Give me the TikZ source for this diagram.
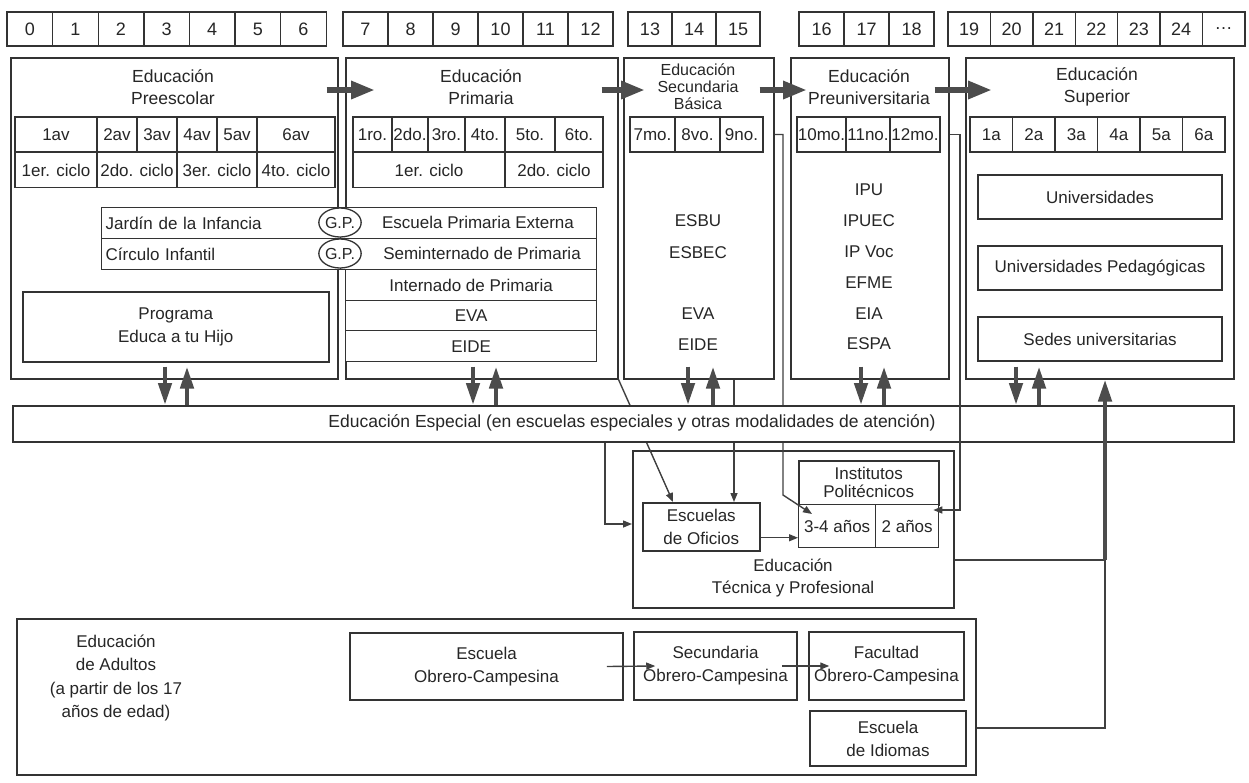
\documentclass[tikz,border=0pt]{standalone}
\usepackage{fontspec}
\setmainfont{Liberation Sans}
\usetikzlibrary{arrows.meta,positioning,shapes.geometric,calc}

\begin{document}
\begin{tikzpicture}[x=1pt,y=-1pt,font=\fontsize{17}{20}\selectfont,text=black!85]
  \tikzstyle{box}=[draw=black!80,line width=1.5pt,fill=white,inner sep=0pt,align=center]
  \tikzstyle{cell}=[box,line width=1.3pt,minimum height=35]
  \tikzstyle{agebox}=[box,line width=1.4pt,minimum height=34,font=\fontsize{18}{20}\selectfont]
  \tikzstyle{lbl}=[inner sep=0pt,align=center]
  \tikzstyle{title}=[lbl,font=\fontsize{17.5}{22}\selectfont]
  \tikzstyle{bigarr}=[draw=black!70,line width=6pt,-{Triangle[length=24pt,width=17pt]}]
  \tikzstyle{pairarr}=[draw=black!70,line width=4.5pt,-{Triangle[length=22pt,width=13pt]}]
  \tikzstyle{link}=[draw=black!75,line width=1.4pt]
  \tikzstyle{thinarr}=[link,-{Triangle[length=9pt,width=7pt]}]

  \fill[white] (0,0) rectangle (1249,782);
  \useasboundingbox (0,0) rectangle (1249,782);

  % edades
  \foreach \lab [count=\i] in {0,...,6}
    \node[agebox,minimum width=45.6] (ageA\i) at ({7+45.6*(\i-0.5)},29) {\lab};
  \foreach \lab [count=\i] in {7,...,12}
    \node[agebox,minimum width=45] (ageB\i) at ({343+45*(\i-0.5)},29) {\lab};
  \foreach \lab [count=\i] in {13,14,15}
    \node[agebox,minimum width=44] (ageC\i) at ({628+44*(\i-0.5)},29) {\lab};
  \foreach \lab [count=\i] in {16,17,18}
    \node[agebox,minimum width=45] (ageD\i) at ({799+45*(\i-0.5)},29) {\lab};
  \foreach \lab [count=\i] in {19,20,21,22,23,24,\ldots}
    \node[agebox,minimum width=42.4] (ageE\i) at ({948+42.4*(\i-0.5)},29) {\lab};

  % niveles
  \node[box,minimum width=327,minimum height=321,anchor=north west] (preesc) at (10,57) {};
  \node[box,minimum width=272,minimum height=321,anchor=north west] (primaria) at (345,57) {};
  \node[box,minimum width=150,minimum height=321,anchor=north west] (secund) at (623,57) {};
  \node[box,minimum width=158,minimum height=321,anchor=north west] (preuni) at (790,57) {};
  \node[box,minimum width=268,minimum height=321,anchor=north west] (superior) at (965,57) {};

  \node[title] (preescT) at (173,87) {Educación\\Preescolar};
  \node[title] (primariaT) at (481,87) {Educación\\Primaria};
  \node[title,font=\fontsize{16}{17}\selectfont] (secundT) at (698,87) {Educación\\Secundaria\\Básica};
  \node[title] (preuniT) at (869,87) {Educación\\Preuniversitaria};
  \node[title] (superiorT) at (1097,87) {Educación\\Superior};

  % grados
  \foreach \xa/\xb/\lab [count=\i] in {15/97/1av,97/137/2av,137/177/3av,177/217/4av,217/257/5av,257/335/6av}
    \node[cell,minimum width=\xb-\xa] (pg\i) at ({(\xa+\xb)/2},134.5) {\lab};
  \foreach \xa/\xb/\lab [count=\i] in {15/97/1er. ciclo,97/177/2do. ciclo,177/257/3er. ciclo,257/335/4to. ciclo}
    \node[cell,minimum width=\xb-\xa] (pc\i) at ({(\xa+\xb)/2},170) {\lab};
  \foreach \xa/\xb/\lab [count=\i] in {353/392/1ro.,392/428/2do.,428/465/3ro.,465/505/4to.,505/555/5to.,555/603/6to.}
    \node[cell,minimum width=\xb-\xa] (prg\i) at ({(\xa+\xb)/2},134.5) {\lab};
  \foreach \xa/\xb/\lab [count=\i] in {353/505/1er. ciclo,505/603/2do. ciclo}
    \node[cell,minimum width=\xb-\xa] (prc\i) at ({(\xa+\xb)/2},170) {\lab};
  \foreach \xa/\xb/\lab [count=\i] in {630/675/7mo.,675/720/8vo.,720/763/9no.}
    \node[cell,minimum width=\xb-\xa] (sc\i) at ({(\xa+\xb)/2},134.5) {\lab};
  \foreach \xa/\xb/\lab [count=\i] in {797/846/10mo.,846/890/11no.,890/940/12mo.}
    \node[cell,minimum width=\xb-\xa] (puc\i) at ({(\xa+\xb)/2},134.5) {\lab};
  \foreach \lab [count=\i] in {1a,2a,3a,4a,5a,6a}
    \node[cell,minimum width=42.5] (su\i) at ({970+42.5*(\i-0.5)},134.5) {\lab};

  % centros
  \node[cell,minimum width=239,minimum height=31,anchor=north west,text width=231,align=left] (jardin) at (101,207) {Jardín de la Infancia};
  \node[cell,minimum width=239,minimum height=31,anchor=north west,text width=231,align=left] (circulo) at (101,238) {Círculo Infantil};
  \node[cell,minimum width=256,minimum height=31,anchor=north west] (epe) at (340,207) {};
  \node[cell,minimum width=256,minimum height=31,anchor=north west] (semi) at (340,238) {};
  \node[lbl] (epeT) at (478,222.5) {Escuela Primaria Externa};
  \node[lbl] (semiT) at (482,253.5) {Seminternado de Primaria};
  \foreach \lab/\yy/\hh [count=\i] in {Internado de Primaria/269/31,EVA/300/30,EIDE/330/31}
    \node[cell,minimum width=251,minimum height=\hh,anchor=north west] (pri\i) at (345,\yy) {\lab};
  \foreach \yy [count=\i] in {222.5,253.5}
    \node[ellipse,draw=black!80,line width=1.3pt,fill=white,inner sep=0pt,minimum width=42,minimum height=29,font=\fontsize{16}{18}\selectfont] (gp\i) at (340,\yy) {G.P.};
  \node[box,minimum width=306,minimum height=70,anchor=north west,font=\fontsize{17}{23}\selectfont] (programa) at (22,291) {Programa\\Educa a tu Hijo};

  \foreach \lab/\yy [count=\i] in {ESBU/221,ESBEC/253,EVA/314,EIDE/345}
    \node[lbl] (sbl\i) at (698,\yy) {\lab};
  \foreach \lab/\yy [count=\i] in {IPU/190,IPUEC/221,IP Voc/252,EFME/283,EIA/314,ESPA/344}
    \node[lbl] (pul\i) at (869,\yy) {\lab};
  \foreach \lab/\yy [count=\i] in {Universidades/197,Universidades Pedagógicas/268,Sedes universitarias/339}
    \node[box,minimum width=244,minimum height=44] (uni\i) at (1100,\yy) {\lab};

  % paso de un nivel al siguiente
  \draw[bigarr] ($(preesc.east |- 0,90)+(-12,0)$) -- ($(primaria.west |- 0,90)+(30,0)$);
  \draw[bigarr] ($(primaria.east |- 0,90)+(-17,0)$) -- ($(secund.west |- 0,90)+(22,0)$);
  \draw[bigarr] ($(secund.east |- 0,90)+(-15,0)$) -- ($(preuni.west |- 0,90)+(17,0)$);
  \draw[bigarr] ($(preuni.east |- 0,90)+(-15,0)$) -- ($(superior.west |- 0,90)+(27,0)$);

  % tecnica y profesional
  \node[box,minimum width=321,minimum height=157,anchor=north west] (tecnica) at (632,450) {};
  \node[title,font=\fontsize{17}{22}\selectfont] (tecnicaT) at (793,578) {Educación\\Técnica y Profesional};
  \node[box,minimum width=117,minimum height=48,anchor=north west,font=\fontsize{17}{23}\selectfont] (oficios) at (642,502) {Escuelas\\de Oficios};
  \node[box,minimum width=140,minimum height=44,anchor=north west,font=\fontsize{17}{18}\selectfont] (politec) at (798,460) {Institutos\\Politécnicos};
  \node[cell,minimum width=77,minimum height=43,anchor=north west] (ip1) at (798,504) {3-4 años};
  \node[cell,minimum width=63,minimum height=43,anchor=north west] (ip2) at (875,504) {2 años};

  % adultos
  \node[box,minimum width=959,minimum height=156,anchor=north west] (adultos) at (16,618) {};
  \node[lbl,font=\fontsize{17}{23.5}\selectfont] (adultosT) at (116,678) {Educación\\de Adultos\\(a partir de los 17\\años de edad)};
  \node[box,minimum width=273,minimum height=67,font=\fontsize{17}{23}\selectfont] (escOC) at (486.5,666.5) {Escuela\\Obrero-Campesina};
  \node[box,minimum width=163,minimum height=68,font=\fontsize{17}{23}\selectfont] (secOC) at (715.5,666) {Secundaria\\Obrero-Campesina};
  \node[box,minimum width=155,minimum height=68,font=\fontsize{17}{23}\selectfont] (facOC) at (886.5,666) {Facultad\\Obrero-Campesina};
  \node[box,minimum width=156,minimum height=55,font=\fontsize{17}{23}\selectfont] (idiomas) at (888,738.5) {Escuela\\de Idiomas};
  \draw[thinarr] ($(escOC.east)+(-17,0)$) -- ($(secOC.west)+(22,0)$);
  \draw[thinarr] ($(secOC.east)+(-16,0)$) -- ($(facOC.west)+(21,0)$);

  % enlaces que pasan bajo la franja de especial
  \draw[thinarr] (primaria.south east) -- ([xshift=31pt]oficios.north west);
  \draw[thinarr] (734,0 |- secund.south) -- (734,0 |- oficios.north);
  \draw[thinarr] (secund.east |- sc3.east) -- (783,134.5) -- (783,495) -- ([xshift=14pt,yshift=-10pt]ip1.north west);

  % educacion especial
  \node[box,minimum width=1221,minimum height=36,anchor=north west] (especial) at (12,405) {};
  \node[lbl,font=\fontsize{17.5}{20}\selectfont] (especialT) at (632,423) {Educación Especial (en escuelas especiales y otras modalidades de atención)};

  \foreach \lvl/\xd/\xu in {preesc/165/187,primaria/473/496,secund/688/713,preuni/861/884,superior/1016/1039}{
    \draw[pairarr] ($(\lvl.south -| \xd,0)+(0,-13)$) -- (\xd,0 |- especial.north);
    \draw[pairarr] (\xu,0 |- especial.north) -- ($(\lvl.south -| \xu,0)+(0,-13)$);
  }

  \draw[thinarr] (605,0 |- especial.south) -- (605,524) -- (605,524 -| tecnica.west);
  \draw[thinarr] (preuni.east |- puc3.east) -- (960,134.5) -- (960,510) -- ([xshift=-6pt,yshift=-6pt]ip2.north east);
  \draw[thinarr] ([yshift=-11pt]oficios.east) -- ([yshift=-11pt]oficios.east -| politec.west);

  % hacia la educacion superior
  \coordinate (join) at (1105,560);
  \draw[link] (tecnica.east |- join) -- (join);
  \draw[link] (adultos.east |- 0,728) -- (1105,728) -- (join);
  \draw[pairarr] (join) -- (join |- superior.south);
\end{tikzpicture}
\end{document}
